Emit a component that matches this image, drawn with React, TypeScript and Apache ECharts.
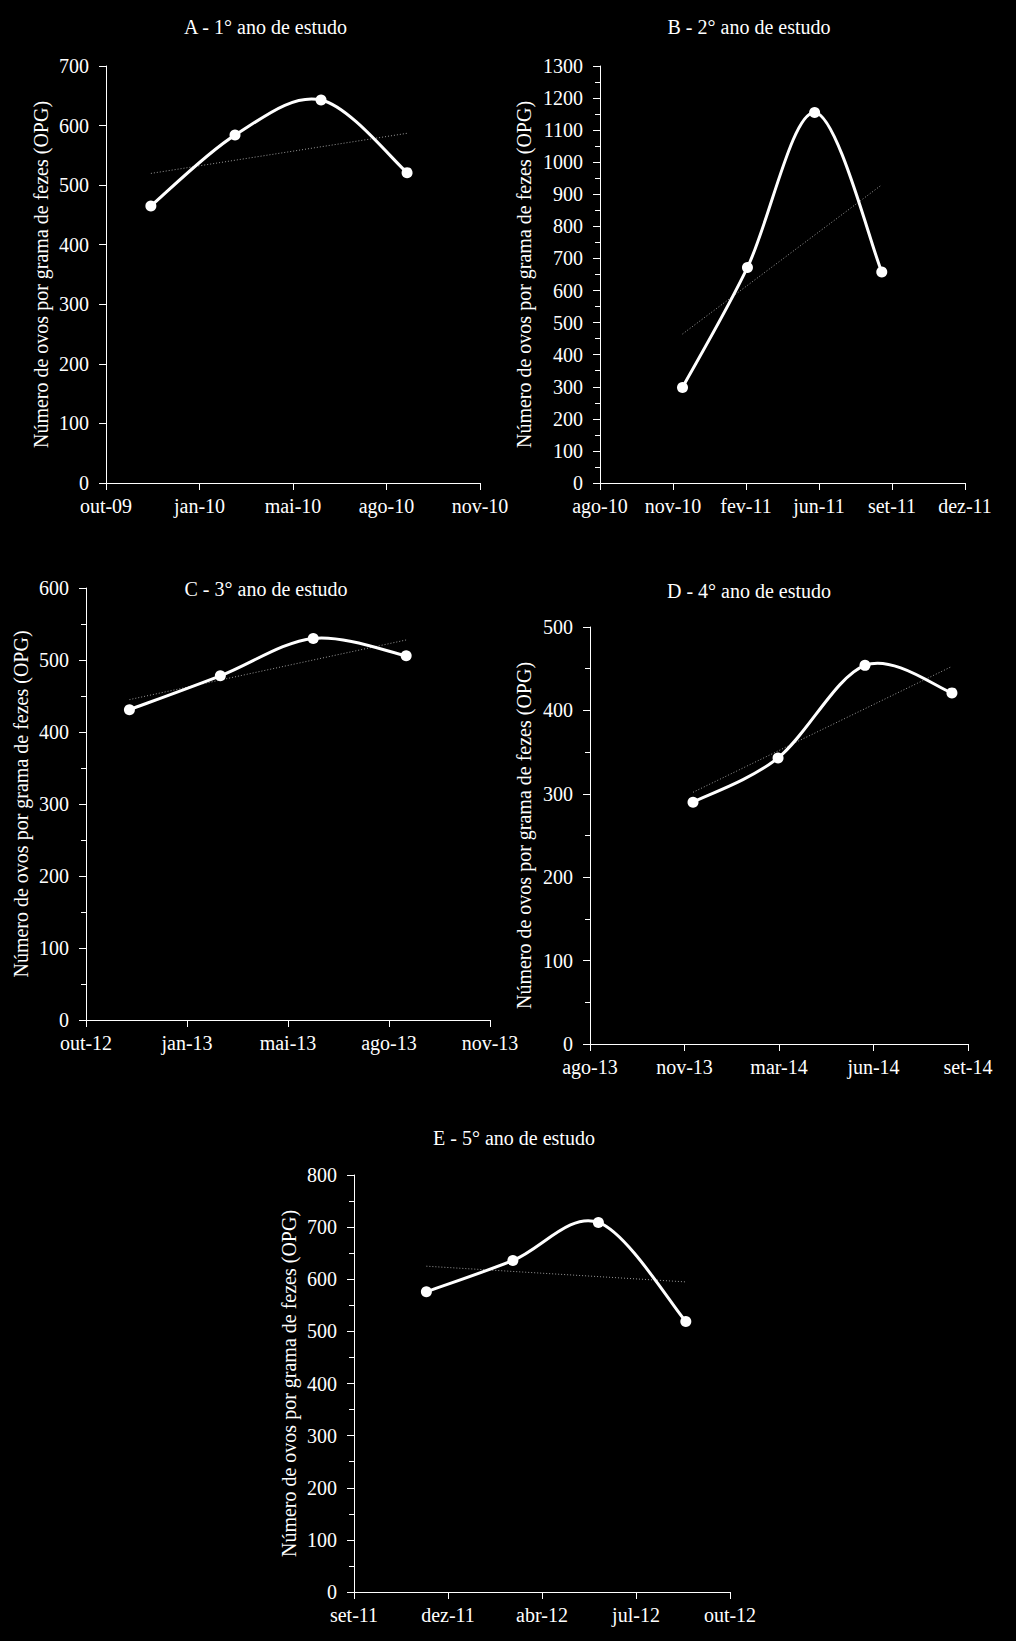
import React, { useEffect, useRef } from "react";
import * as echarts from "echarts";

const yAxisTitle = "Número de ovos por grama de fezes (OPG)";
const panelTitles = [
  "A - 1° ano de estudo",
  "B - 2° ano de estudo",
  "C - 3° ano de estudo",
  "D - 4° ano de estudo",
  "E - 5° ano de estudo",
];

// Panel A
const xLabelsA = ["out-09", "jan-10", "mai-10", "ago-10", "nov-10"];
const xPosA = [0.48, 1.38, 2.3, 3.22];
const opgA = [465, 584, 643, 521];

// Panel B
const xLabelsB = ["ago-10", "nov-10", "fev-11", "jun-11", "set-11", "dez-11"];
const xPosB = [1.13, 2.02, 2.94, 3.86];
const opgB = [298, 672, 1155, 658];

// Panel C
const xLabelsC = ["out-12", "jan-13", "mai-13", "ago-13", "nov-13"];
const xPosC = [0.43, 1.33, 2.25, 3.17];
const opgC = [431, 478, 530, 506];

// Panel D
const xLabelsD = ["ago-13", "nov-13", "mar-14", "jun-14", "set-14"];
const xPosD = [1.09, 1.99, 2.91, 3.83];
const opgD = [290, 343, 454, 421];

// Panel E
const xLabelsE = ["set-11", "dez-11", "abr-12", "jul-12", "out-12"];
const xPosE = [0.77, 1.69, 2.6, 3.53];
const opgE = [576, 636, 709, 519];

const yMaxes = [700, 1300, 600, 500, 800];

const FONT = "Liberation Serif";

function linearTrend(xs: number[], ys: number[]) {
  const n = xs.length;
  const mx = xs.reduce((a, b) => a + b, 0) / n;
  const my = ys.reduce((a, b) => a + b, 0) / n;
  let sxy = 0;
  let sxx = 0;
  for (let i = 0; i < n; i++) {
    sxy += (xs[i] - mx) * (ys[i] - my);
    sxx += (xs[i] - mx) * (xs[i] - mx);
  }
  const slope = sxy / sxx;
  const x0 = xs[0];
  const x1 = xs[n - 1];
  return [
    [x0, my + slope * (x0 - mx)],
    [x1, my + slope * (x1 - mx)],
  ];
}

const panels = [
  { labels: xLabelsA, xs: xPosA, ys: opgA, minor: false, grid: { left: 106, top: 66, width: 374, height: 417 }, nameGap: 55, title: [265.5, 27] },
  { labels: xLabelsB, xs: xPosB, ys: opgB, minor: true, grid: { left: 600, top: 66, width: 365, height: 417 }, nameGap: 66, title: [749, 27] },
  { labels: xLabelsC, xs: xPosC, ys: opgC, minor: true, grid: { left: 86, top: 588, width: 404, height: 432 }, nameGap: 55, title: [266, 589] },
  { labels: xLabelsD, xs: xPosD, ys: opgD, minor: true, grid: { left: 590, top: 627, width: 378, height: 417 }, nameGap: 56, title: [749, 591] },
  { labels: xLabelsE, xs: xPosE, ys: opgE, minor: true, grid: { left: 354, top: 1175, width: 376, height: 417 }, nameGap: 55, title: [514, 1138] },
];

// Excel-like smoothed curve: cubic Bezier segments, Catmull-Rom style control points
function makeSmoothRenderer(pts: number[][]) {
  const n = pts.length;
  return (params: any, api: any) => {
    const i = params.dataIndex;
    if (i >= n - 1) return null;
    const c = (k: number) => api.coord(pts[Math.max(0, Math.min(n - 1, k))]);
    const p0 = c(i - 1);
    const p1 = c(i);
    const p2 = c(i + 1);
    const p3 = c(i + 2);
    return {
      type: "bezierCurve",
      shape: {
        x1: p1[0],
        y1: p1[1],
        x2: p2[0],
        y2: p2[1],
        cpx1: p1[0] + (p2[0] - p0[0]) / 6,
        cpy1: p1[1] + (p2[1] - p0[1]) / 6,
        cpx2: p2[0] - (p3[0] - p1[0]) / 6,
        cpy2: p2[1] - (p3[1] - p1[1]) / 6,
      },
      style: { stroke: "#fff", lineWidth: 3, fill: null, lineCap: "round" },
    };
  };
}

function buildOption() {
  const grid: any[] = [];
  const xAxis: any[] = [];
  const yAxis: any[] = [];
  const series: any[] = [];
  const title: any[] = [];
  panels.forEach((p, i) => {
    grid.push({ ...p.grid, containLabel: false });
    title.push({
      text: panelTitles[i],
      left: p.title[0],
      top: p.title[1] - 12,
      textAlign: "center",
      padding: 0,
      textStyle: { color: "#fff", fontFamily: FONT, fontSize: 20, fontWeight: "normal", lineHeight: 24 },
    });
    const labels = p.labels;
    xAxis.push({
      type: "value",
      gridIndex: i,
      min: 0,
      max: labels.length - 1,
      interval: 1,
      axisLine: { show: true, onZero: false, lineStyle: { color: "#fff", width: 1 } },
      axisTick: { show: true, length: 7, lineStyle: { color: "#fff", width: 1 } },
      splitLine: { show: false },
      axisLabel: {
        color: "#fff",
        fontFamily: FONT,
        fontSize: 20,
        margin: 13,
        showMinLabel: true,
        showMaxLabel: true,
        formatter: (v: number) => labels[Math.round(v)] ?? "",
      },
    });
    yAxis.push({
      type: "value",
      gridIndex: i,
      min: 0,
      max: yMaxes[i],
      interval: 100,
      name: yAxisTitle,
      nameLocation: "middle",
      nameRotate: 90,
      nameGap: p.nameGap,
      nameTextStyle: { color: "#fff", fontFamily: FONT, fontSize: 20 },
      axisLine: { show: true, onZero: false, lineStyle: { color: "#fff", width: 1 } },
      axisTick: { show: true, length: 7, lineStyle: { color: "#fff", width: 1 } },
      minorTick: { show: p.minor, splitNumber: 2, length: 5, lineStyle: { color: "#fff", width: 1 } },
      splitLine: { show: false },
      minorSplitLine: { show: false },
      axisLabel: {
        color: "#fff",
        fontFamily: FONT,
        fontSize: 20,
        margin: 17,
        formatter: (v: number) => String(v),
      },
    });
    const pts = p.xs.map((x, k) => [x, p.ys[k]]);
    series.push({
      type: "line",
      xAxisIndex: i,
      yAxisIndex: i,
      data: linearTrend(p.xs, p.ys),
      symbol: "none",
      lineStyle: { color: "#9a9a9a", width: 1, type: [1, 2] },
      z: 1,
    });
    series.push({
      type: "custom",
      xAxisIndex: i,
      yAxisIndex: i,
      data: pts,
      encode: { x: 0, y: 1 },
      renderItem: makeSmoothRenderer(pts),
      clip: false,
      z: 2,
    });
    series.push({
      type: "scatter",
      xAxisIndex: i,
      yAxisIndex: i,
      data: pts,
      symbol: "circle",
      symbolSize: 11,
      itemStyle: { color: "#fff", opacity: 1 },
      z: 3,
    });
  });
  return {
    animation: false,
    backgroundColor: "#000",
    title,
    grid,
    xAxis,
    yAxis,
    series,
  };
}

export default function App() {
  const ref = useRef<HTMLDivElement>(null);
  useEffect(() => {
    document.body.style.background = "#000";
    if (!ref.current) return;
    const chart = echarts.init(ref.current, undefined, { renderer: "svg" });
    chart.setOption(buildOption() as any);
    return () => chart.dispose();
  }, []);
  return (
    <div
      ref={ref}
      style={{ position: "absolute", left: 0, top: 0, width: 1016, height: 1641, background: "#000" }}
    />
  );
}
